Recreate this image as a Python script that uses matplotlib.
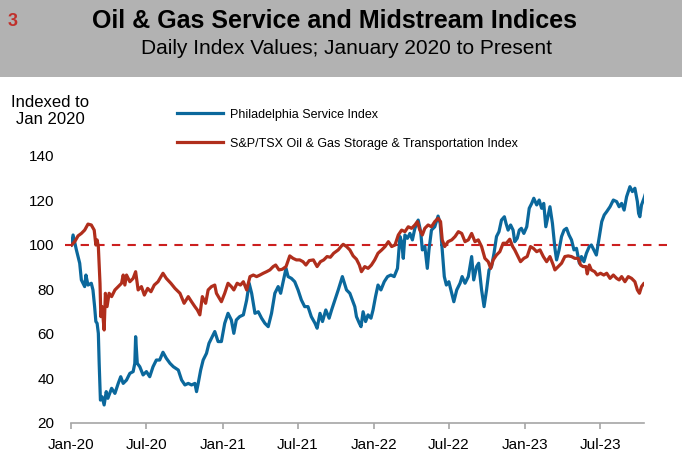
import pandas as pd
import matplotlib
matplotlib.use('Agg')
import matplotlib.pyplot as plt
import matplotlib.dates as mdates
from matplotlib import rcParams

rcParams['font.family'] = ['Liberation Sans', 'DejaVu Sans']

# Philadelphia Service Index (indexed to Jan 2020 = 100)
osx_dates = [
    '2020-01-02', '2020-01-06', '2020-01-14', '2020-01-22', '2020-01-26', '2020-02-03', '2020-02-06',
    '2020-02-11', '2020-02-19', '2020-02-23', '2020-02-27', '2020-03-01', '2020-03-04', '2020-03-07',
    '2020-03-09', '2020-03-12', '2020-03-16', '2020-03-21', '2020-03-26', '2020-03-30', '2020-04-08',
    '2020-04-16', '2020-04-24', '2020-04-30', '2020-05-06', '2020-05-14', '2020-05-22', '2020-05-30',
    '2020-06-03', '2020-06-05', '2020-06-09', '2020-06-15', '2020-06-23', '2020-07-01', '2020-07-09',
    '2020-07-17', '2020-07-25', '2020-08-02', '2020-08-10', '2020-08-18', '2020-08-27', '2020-09-04',
    '2020-09-16', '2020-09-24', '2020-10-02', '2020-10-10', '2020-10-18', '2020-10-26', '2020-10-30',
    '2020-11-03', '2020-11-09', '2020-11-15', '2020-11-23', '2020-11-29', '2020-12-05', '2020-12-13',
    '2020-12-21', '2020-12-29', '2021-01-06', '2021-01-14', '2021-01-22', '2021-01-28', '2021-02-03',
    '2021-02-11', '2021-02-20', '2021-02-28', '2021-03-06', '2021-03-12', '2021-03-20', '2021-03-28',
    '2021-04-05', '2021-04-13', '2021-04-21', '2021-04-29', '2021-05-07', '2021-05-15', '2021-05-21',
    '2021-05-27', '2021-06-03', '2021-06-08', '2021-06-16', '2021-06-24', '2021-07-02', '2021-07-10',
    '2021-07-18', '2021-07-26', '2021-08-03', '2021-08-12', '2021-08-17', '2021-08-24', '2021-08-30',
    '2021-09-07', '2021-09-15', '2021-09-21', '2021-09-29', '2021-10-07', '2021-10-17', '2021-10-27',
    '2021-11-04', '2021-11-10', '2021-11-16', '2021-11-20', '2021-11-27', '2021-12-01', '2021-12-06',
    '2021-12-12', '2021-12-18', '2021-12-25', '2021-12-30', '2022-01-05', '2022-01-11', '2022-01-18',
    '2022-01-26', '2022-02-03', '2022-02-11', '2022-02-19', '2022-02-27', '2022-03-05', '2022-03-09',
    '2022-03-13', '2022-03-17', '2022-03-23', '2022-03-29', '2022-04-04', '2022-04-10', '2022-04-18',
    '2022-04-24', '2022-04-28', '2022-05-04', '2022-05-10', '2022-05-14', '2022-05-20', '2022-05-28',
    '2022-06-05', '2022-06-10', '2022-06-15', '2022-06-20', '2022-06-25', '2022-07-01', '2022-07-08',
    '2022-07-13', '2022-07-20', '2022-07-28', '2022-08-02', '2022-08-09', '2022-08-17', '2022-08-25',
    '2022-08-30', '2022-09-06', '2022-09-11', '2022-09-18', '2022-09-24', '2022-09-30', '2022-10-06',
    '2022-10-12', '2022-10-18', '2022-10-24', '2022-10-30', '2022-11-05', '2022-11-12', '2022-11-16',
    '2022-11-21', '2022-11-27', '2022-12-03', '2022-12-07', '2022-12-13', '2022-12-18', '2022-12-23',
    '2022-12-29', '2023-01-05', '2023-01-11', '2023-01-17', '2023-01-22', '2023-01-29', '2023-02-04',
    '2023-02-10', '2023-02-15', '2023-02-20', '2023-02-26', '2023-03-02', '2023-03-08', '2023-03-14',
    '2023-03-18', '2023-03-24', '2023-03-30', '2023-04-05', '2023-04-11', '2023-04-17', '2023-04-23',
    '2023-04-29', '2023-05-05', '2023-05-12', '2023-05-17', '2023-05-23', '2023-05-29', '2023-06-05',
    '2023-06-10', '2023-06-16', '2023-06-22', '2023-06-28', '2023-07-05', '2023-07-11', '2023-07-17',
    '2023-07-25', '2023-08-02', '2023-08-10', '2023-08-16', '2023-08-22', '2023-08-28', '2023-09-03',
    '2023-09-11', '2023-09-17', '2023-09-23', '2023-09-29', '2023-10-02', '2023-10-05', '2023-10-09',
    '2023-10-15', '2023-10-20',
]
osx_values = [
    100, 104.5, 97.8, 91.8, 84.3, 81.3, 86.5,
    82.0, 82.8, 79.8, 72.3, 65.6, 64.8, 60.3,
    46.8, 30.3, 31.8, 28.1, 34.1, 31.1, 35.6,
    33.3, 37.8, 40.8, 37.8, 39.3, 42.3, 43.1,
    46.8, 58.8, 46.8, 45.3, 41.6, 43.1, 40.8,
    45.3, 48.3, 48.3, 51.8, 49.1, 46.8, 45.3,
    43.8, 39.3, 37.1, 37.8, 37.1, 37.8, 34.1,
    37.8, 43.8, 48.3, 51.3, 55.8, 58.1, 61.1,
    56.6, 56.6, 64.8, 69.3, 66.3, 60.3, 66.3,
    67.8, 68.6, 75.3, 82.8, 78.3, 69.3, 70.0,
    67.1, 64.8, 63.3, 69.3, 78.3, 81.3, 78.3,
    83.5, 89.5, 85.8, 85.0, 83.5, 79.8, 75.3,
    72.3, 72.3, 67.8, 64.8, 62.6, 69.3, 65.6,
    70.8, 67.1, 70.8, 75.3, 79.8, 85.8, 79.8,
    78.3, 75.3, 72.3, 67.8, 64.8, 63.3, 70.0,
    65.6, 68.6, 67.1, 70.8, 76.8, 82.0, 79.8,
    83.5, 85.8, 86.5, 85.8, 89.5, 103.8, 101.5,
    94.0, 104.5, 103.0, 105.2, 102.3, 107.5, 111.2,
    106.0, 97.8, 99.3, 89.5, 97.8, 106.7, 108.2,
    113.0, 109.7, 97.8, 85.8, 82.0, 83.5, 78.3,
    74.5, 79.8, 82.8, 85.8, 82.8, 85.8, 94.8,
    84.3, 90.3, 91.8, 79.8, 72.3, 79.8, 88.8,
    90.3, 96.3, 103.8, 106.0, 111.2, 112.7, 109.7,
    106.7, 109.0, 106.7, 101.5, 103.0, 106.7, 107.5,
    105.2, 108.2, 116.5, 118.7, 121.0, 118.0, 120.2,
    116.5, 118.7, 108.2, 113.5, 117.2, 109.7, 98.5,
    93.3, 97.8, 103.8, 106.7, 107.5, 104.5, 102.3,
    97.8, 98.5, 91.8, 94.8, 92.5, 96.3, 99.3,
    100.0, 97.8, 95.5, 102.3, 110.5, 113.5, 115.0,
    117.2, 120.2, 119.5, 117.2, 118.7, 115.7, 121.7,
    126.2, 124.0, 125.5, 119.5, 114.2, 112.7, 118.0,
    121.0, 124.0,
]

# S&P/TSX Oil & Gas Storage & Transportation Index (indexed to Jan 2020 = 100)
tsx_dates = [
    '2020-01-02', '2020-01-10', '2020-01-18', '2020-01-26', '2020-02-03', '2020-02-11', '2020-02-19',
    '2020-02-26', '2020-03-01', '2020-03-04', '2020-03-07', '2020-03-11', '2020-03-13', '2020-03-16',
    '2020-03-21', '2020-03-24', '2020-03-28', '2020-04-02', '2020-04-08', '2020-04-16', '2020-04-24',
    '2020-05-02', '2020-05-06', '2020-05-10', '2020-05-14', '2020-05-22', '2020-05-30', '2020-06-05',
    '2020-06-11', '2020-06-19', '2020-06-26', '2020-07-04', '2020-07-12', '2020-07-20', '2020-07-29',
    '2020-08-10', '2020-08-18', '2020-08-29', '2020-09-08', '2020-09-20', '2020-09-30', '2020-10-10',
    '2020-10-18', '2020-10-26', '2020-11-01', '2020-11-07', '2020-11-13', '2020-11-21', '2020-11-27',
    '2020-12-05', '2020-12-13', '2020-12-17', '2020-12-29', '2021-01-06', '2021-01-14', '2021-01-22',
    '2021-01-28', '2021-02-05', '2021-02-13', '2021-02-20', '2021-02-28', '2021-03-08', '2021-03-16',
    '2021-03-24', '2021-04-01', '2021-04-09', '2021-04-17', '2021-04-25', '2021-05-03', '2021-05-09',
    '2021-05-17', '2021-05-25', '2021-06-03', '2021-06-12', '2021-06-20', '2021-06-28', '2021-07-06',
    '2021-07-14', '2021-07-21', '2021-07-29', '2021-08-08', '2021-08-17', '2021-08-25', '2021-09-02',
    '2021-09-10', '2021-09-18', '2021-09-26', '2021-10-07', '2021-10-15', '2021-10-19', '2021-10-27',
    '2021-11-04', '2021-11-12', '2021-11-20', '2021-11-27', '2021-12-02', '2021-12-10', '2021-12-18',
    '2021-12-26', '2022-01-03', '2022-01-11', '2022-01-20', '2022-01-28', '2022-02-05', '2022-02-13',
    '2022-02-21', '2022-03-01', '2022-03-09', '2022-03-17', '2022-03-25', '2022-04-02', '2022-04-10',
    '2022-04-16', '2022-04-22', '2022-04-28', '2022-05-04', '2022-05-12', '2022-05-20', '2022-05-28',
    '2022-06-05', '2022-06-11', '2022-06-15', '2022-06-21', '2022-06-29', '2022-07-08', '2022-07-16',
    '2022-07-24', '2022-08-01', '2022-08-09', '2022-08-17', '2022-08-25', '2022-09-02', '2022-09-10',
    '2022-09-18', '2022-09-26', '2022-10-04', '2022-10-10', '2022-10-16', '2022-10-24', '2022-11-01',
    '2022-11-09', '2022-11-17', '2022-11-25', '2022-12-02', '2022-12-07', '2022-12-15', '2022-12-21',
    '2022-12-29', '2023-01-06', '2023-01-14', '2023-01-21', '2023-01-29', '2023-02-06', '2023-02-14',
    '2023-02-22', '2023-03-02', '2023-03-10', '2023-03-14', '2023-03-22', '2023-03-30', '2023-04-07',
    '2023-04-15', '2023-04-23', '2023-05-01', '2023-05-09', '2023-05-15', '2023-05-21', '2023-05-28',
    '2023-05-31', '2023-06-05', '2023-06-10', '2023-06-18', '2023-06-24', '2023-07-02', '2023-07-10',
    '2023-07-17', '2023-07-25', '2023-08-02', '2023-08-10', '2023-08-16', '2023-08-22', '2023-08-30',
    '2023-09-07', '2023-09-15', '2023-09-23', '2023-09-29', '2023-10-04', '2023-10-09', '2023-10-15',
    '2023-10-20',
]
tsx_values = [
    100, 101.5, 104.1, 105.2, 106.7, 109.4, 109.0,
    106.7, 100.0, 102.3, 99.3, 82.8, 67.8, 72.3,
    61.8, 78.3, 72.3, 78.3, 76.8, 79.8, 81.3,
    82.8, 86.5, 82.0, 86.5, 83.5, 85.0, 88.0,
    79.8, 81.3, 77.5, 80.5, 79.0, 82.0, 83.5,
    87.3, 85.0, 82.8, 80.5, 78.3, 73.8, 76.8,
    74.5, 72.3, 70.8, 68.6, 76.8, 73.8, 79.8,
    81.3, 82.0, 78.3, 74.5, 78.3, 82.8, 81.3,
    79.8, 82.8, 82.0, 83.5, 79.8, 85.8, 86.5,
    85.8, 86.5, 87.3, 88.0, 88.8, 90.3, 91.0,
    88.8, 89.1, 90.3, 95.1, 94.0, 93.3, 93.3,
    92.5, 91.0, 93.0, 93.3, 90.3, 92.5, 93.3,
    94.8, 94.5, 96.3, 97.8, 99.6, 100.3, 99.3,
    97.8, 95.1, 93.6, 91.0, 88.0, 90.3, 89.5,
    91.0, 93.3, 96.3, 97.8, 99.3, 101.5, 99.3,
    100.0, 104.5, 106.7, 106.0, 108.2, 107.5, 109.0,
    110.5, 106.7, 104.5, 107.5, 109.0, 108.2, 110.5,
    112.0, 110.5, 102.3, 99.3, 101.5, 102.3, 103.8,
    106.0, 105.2, 101.5, 102.3, 105.2, 101.5, 102.3,
    99.3, 94.0, 92.5, 89.5, 93.3, 95.5, 97.0,
    100.8, 100.8, 102.6, 99.3, 97.8, 94.8, 92.5,
    94.0, 94.8, 99.3, 98.5, 97.0, 97.8, 94.8,
    92.5, 94.8, 91.0, 88.8, 90.3, 91.8, 94.8,
    95.1, 94.8, 94.0, 94.0, 91.0, 90.3, 90.3,
    87.0, 91.0, 88.8, 88.0, 86.5, 87.3, 86.5,
    87.3, 85.0, 86.5, 85.0, 84.3, 85.8, 83.5,
    85.8, 85.0, 83.5, 79.8, 78.3, 81.3, 82.8,
    82.0,
]

tick_dates = ['2020-01-01', '2020-07-01', '2021-01-01', '2021-07-01',
              '2022-01-01', '2022-07-01', '2023-01-01', '2023-07-01']

blue = '#0B689C'
red = '#B02E1C'

fig = plt.figure(figsize=(6.82, 4.67), dpi=100)

# grey header band
fig.patches.append(plt.Rectangle((0, 1 - 77 / 467), 1, 77 / 467, transform=fig.transFigure,
                                  facecolor='#B2B2B2', edgecolor='none', zorder=0))
fig.text(0.011, 0.955, '3', color='#C0302B', fontsize=13, fontweight='bold', va='center')
fig.text(0.49, 0.955, 'Oil & Gas Service and Midstream Indices', fontsize=18,
         fontweight='bold', ha='center', va='center')
fig.text(0.508, 0.896, 'Daily Index Values; January 2020 to Present', fontsize=15,
         ha='center', va='center')

ax = fig.add_axes([71 / 682, 1 - 423 / 467, 573 / 682, (423 - 111.5) / 467])

ax.plot(pd.to_datetime(osx_dates), osx_values, color=blue, lw=2.3,
        label='Philadelphia Service Index', solid_joinstyle='round')
ax.plot(pd.to_datetime(tsx_dates), tsx_values, color=red, lw=2.3,
        label='S&P/TSX Oil & Gas Storage & Transportation Index', solid_joinstyle='round')

ax.axhline(100, xmin=-0.01, xmax=1.04, color='#CC1F1F', lw=1.5, ls=(0, (4, 3.5)),
           clip_on=False, zorder=1)

ax.set_xlim(pd.Timestamp('2020-01-01'), pd.Timestamp('2023-10-15'))
ax.set_ylim(20, 160)
ax.set_yticks([20, 40, 60, 80, 100, 120, 140])
ax.set_xticks(pd.to_datetime(tick_dates))
ax.xaxis.set_major_formatter(mdates.DateFormatter('%b-%y'))

for s in ['top', 'right', 'left']:
    ax.spines[s].set_visible(False)
ax.spines['bottom'].set_color('#A6A6A6')
ax.spines['bottom'].set_linewidth(1.2)
ax.tick_params(axis='x', colors='#A6A6A6', labelcolor='black', length=4, width=1.2,
               labelsize=11, pad=7)
ax.tick_params(axis='y', length=0, labelsize=11, pad=12)

fig.text(50 / 682, 1 - 111 / 467, 'Indexed to\nJan 2020', fontsize=12, ha='center',
         va='center', linespacing=1.1)

ax.legend(loc='upper left', bbox_to_anchor=(0.165, 1.045), frameon=False, fontsize=9,
          handlelength=3.7, handletextpad=0.55, labelspacing=1.35)

plt.savefig('out.png', dpi=100)
